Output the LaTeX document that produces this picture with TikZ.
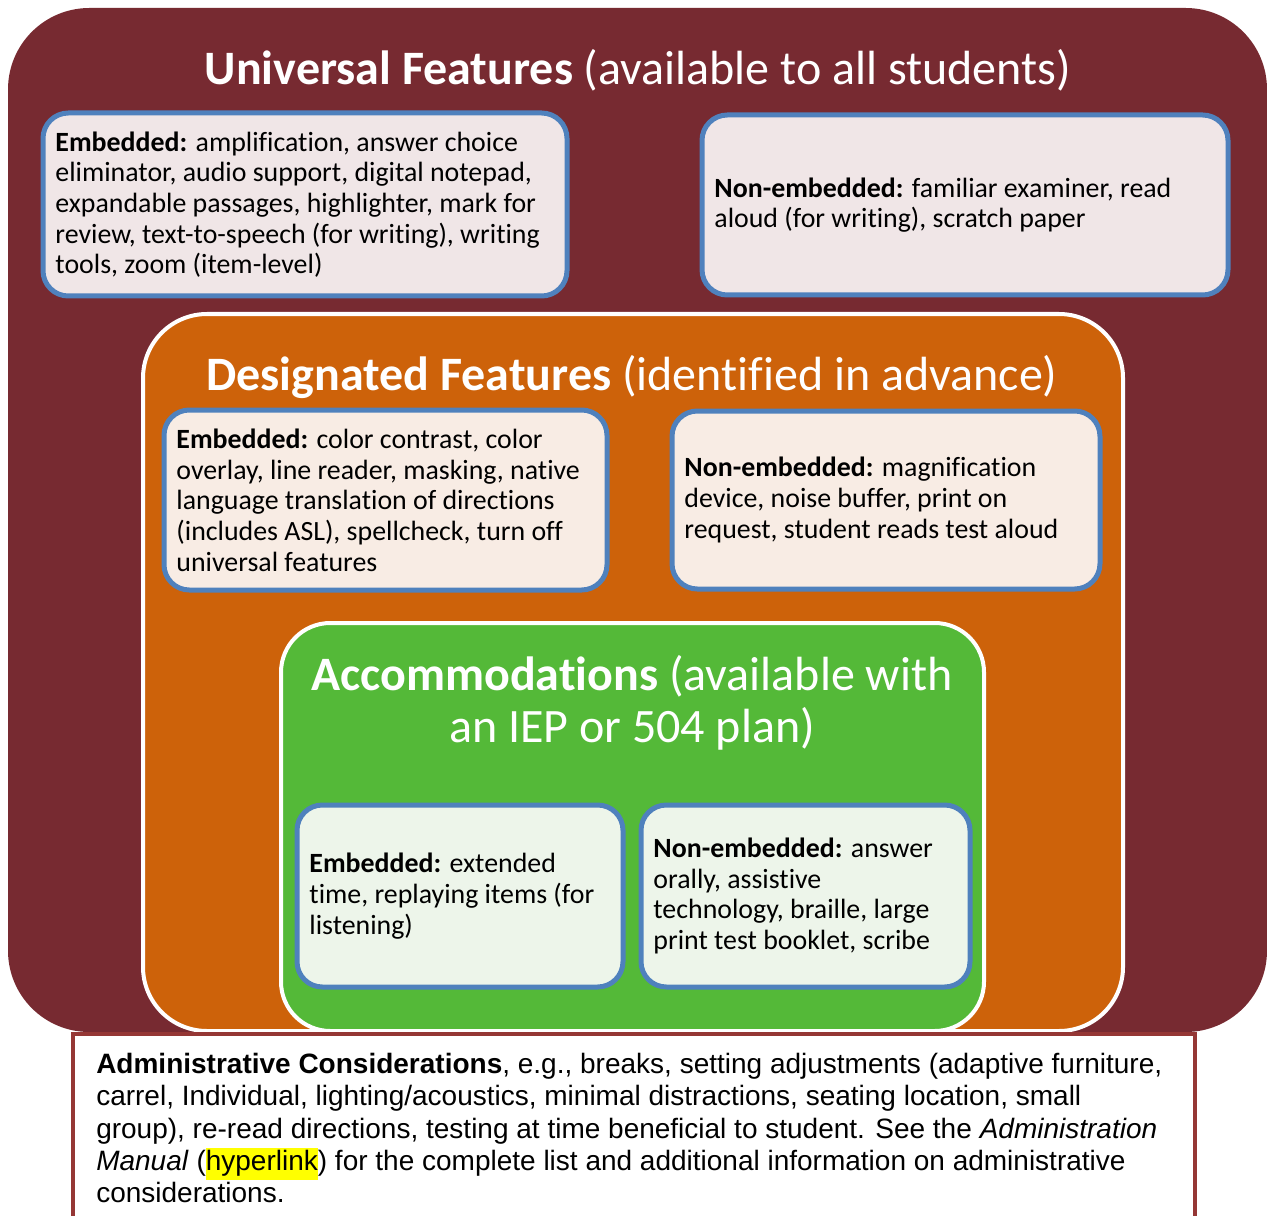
\documentclass[tikz,border=0pt]{standalone}
\usepackage{fontspec}
\setmainfont{Carlito}[Ligatures={NoCommon}]
\newfontfamily\arialf{Liberation Sans}
\usetikzlibrary{fit}
\definecolor{maroonc}{RGB}{119,42,49}
\definecolor{orangec}{RGB}{205,98,10}
\definecolor{greenc}{RGB}{84,185,56}
\definecolor{blueb}{RGB}{79,129,189}
\definecolor{ufill}{RGB}{240,230,231}
\definecolor{dfill}{RGB}{248,236,228}
\definecolor{afill}{RGB}{237,245,234}
\definecolor{admred}{RGB}{149,55,53}
\definecolor{hlyellow}{RGB}{255,255,0}
\newcommand{\hlmark}[1]{{\setlength{\fboxsep}{0pt}\colorbox{hlyellow}{\strut #1}}}
\tikzset{
  region/.style={inner sep=0pt, draw=white, line width=3pt},
  featbox/.style={inner sep=0pt, draw=blueb, line width=3.75pt, rounded corners=19pt},
  body/.style={font=\fontsize{20.9}{23}\selectfont, align=left, inner sep=0pt, anchor=west, text=black},
  title/.style={font=\fontsize{36}{39}\selectfont, align=center, inner sep=0pt, text=white},
}
\begin{document}
\begin{tikzpicture}[x=0.75pt,y=-0.75pt]
\useasboundingbox (0,0) rectangle (1267,1216);
\clip (0,0) rectangle (1267,1216);
% regions
\node (univ) [fit={(8,8)(1267,1032)}, inner sep=0pt, fill=maroonc, rounded corners=61pt] {};
\node (desig) [region, fill=orangec, rounded corners=48pt, fit={(143,314)(1123,1031)}] {};
\node (accom) [region, fill=greenc, rounded corners=37pt, fit={(281,623)(984,1031)}] {};
% titles
\node (univT) [title] at (638,70) {\textbf{Universal Features} (available to all students)};
\node (desigT) [title] at (632,377) {\textbf{Designated Features} (identified in advance)};
\node (accomT) [title] at (632,703) {\textbf{Accommodations} (available with\\an IEP or 504 plan)};
% feature boxes
\node (ue) [featbox, fill=ufill, fit={(43,113)(567,296)}] {};
\node (un) [featbox, fill=ufill, fit={(702,115)(1228,295)}] {};
\node (de) [featbox, fill=dfill, fit={(164,410)(607,590)}] {};
\node (dn) [featbox, fill=dfill, fit={(672,411)(1100,589)}] {};
\node (ae) [featbox, fill=afill, fit={(297,805)(623,987)}] {};
\node (an) [featbox, fill=afill, fit={(641,805)(970,987)}] {};
% texts
\node (ueT) [body] at ([xshift=11pt]ue.west) {\textbf{Embedded:} amplification, answer choice\\eliminator, audio support, digital notepad,\\expandable passages, highlighter, mark for\\review, text-to-speech (for writing), writing\\tools, zoom (item-level)};
\node (unT) [body] at ([xshift=11pt]un.west) {\textbf{Non-embedded:} familiar examiner, read\\aloud (for writing), scratch paper};
\node (deT) [body] at ([xshift=11pt]de.west) {\textbf{Embedded:} color contrast, color\\overlay, line reader, masking, native\\language translation of directions\\(includes ASL), spellcheck, turn off\\universal features};
\node (dnT) [body] at ([xshift=11pt]dn.west) {\textbf{Non-embedded:} magnification\\device, noise buffer, print on\\request, student reads test aloud};
\node (aeT) [body] at ([xshift=11pt]ae.west) {\textbf{Embedded:} extended\\time, replaying items (for\\listening)};
\node (anT) [body] at ([xshift=11pt]an.west) {\textbf{Non-embedded:} answer\\orally, assistive\\technology, braille, large\\print test booklet, scribe};
% administrative box
\node (admin) [fit={(73,1034)(1195,1250)}, inner sep=0pt, draw=admred, line width=3pt, fill=white] {};
\node (adminT) [body, font=\arialf\fontsize{21}{24.2}\selectfont] at (96,1128) {\textbf{Administrative Considerations}, e.g., breaks, setting adjustments (adaptive furniture,\\carrel, Individual, lighting/acoustics, minimal distractions, seating location, small\\group), re-read directions, testing at time beneficial to student. See the \textit{Administration}\\\textit{Manual} (\hlmark{hyperlink}) for the complete list and additional information on administrative\\considerations.};
\end{tikzpicture}
\end{document}
